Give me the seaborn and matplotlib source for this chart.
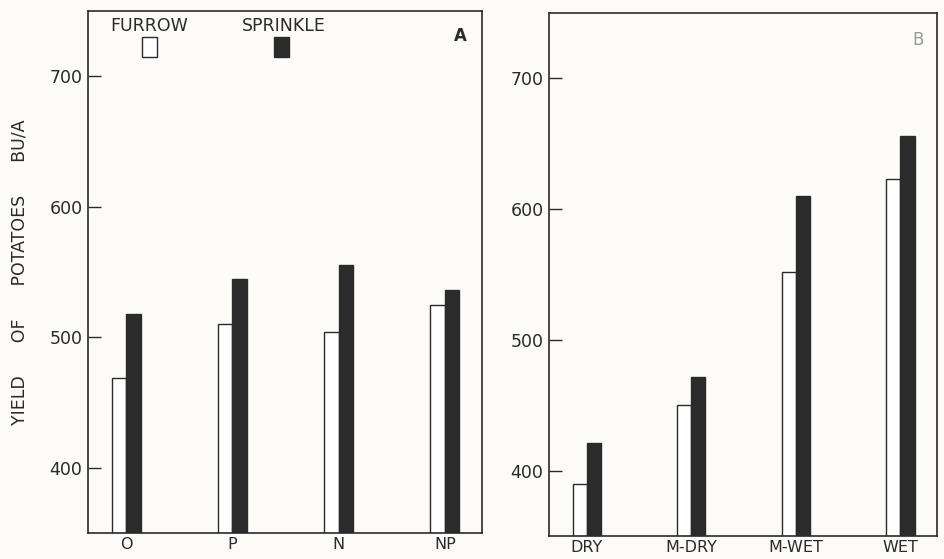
import matplotlib
matplotlib.use("Agg")
import matplotlib.pyplot as plt
import matplotlib.patches as mpatches
import seaborn as sns
import pandas as pd

# ---- data ----
methods = ["FURROW", "SPRINKLE"]
cats_a = ["O", "P", "N", "NP"]
furrow_a = [469, 510, 504, 525]
sprinkle_a = [518, 545, 555, 536]
cats_b = ["DRY", "M-DRY", "M-WET", "WET"]
furrow_b = [390, 450, 552, 623]
sprinkle_b = [421, 472, 610, 656]
yticks = [400, 500, 600, 700]
ylabel = "YIELD      OF      POTATOES      BU/A"

sns.set_theme(style="white")
plt.rcParams["font.family"] = ["DejaVu Sans"]

bg = "#fcfbf8"
ink = "#2a2a2a"
palette = {"FURROW": "white", "SPRINKLE": "#2b2b2b"}


def long_df(cats, f, s):
    return pd.DataFrame({
        "cat": cats * 2,
        "method": [methods[0]] * len(cats) + [methods[1]] * len(cats),
        "value": list(f) + list(s),
    })


fig = plt.figure(figsize=(9.44, 5.59), dpi=100, facecolor=bg)
axA = fig.add_axes([0.0932, 0.0465, 0.4174, 0.9338])
axB = fig.add_axes([0.5816, 0.0411, 0.4110, 0.9356])

for ax, cats, f, s in [(axA, cats_a, furrow_a, sprinkle_a),
                       (axB, cats_b, furrow_b, sprinkle_b)]:
    df = long_df(cats, f, s)
    sns.barplot(data=df, x="cat", y="value", hue="method", order=cats,
                hue_order=methods, palette=palette, width=0.27,
                edgecolor=ink, linewidth=1.0, ax=ax, legend=False,
                errorbar=None)
    ax.set_facecolor(bg)
    ax.set_ylim(350, 750)
    ax.set_xlim(-0.36, 3.35)
    ax.set_yticks(yticks)
    ax.set_yticklabels([str(t) for t in yticks], fontsize=12.5, color=ink)
    ax.tick_params(axis="y", direction="in", length=9, width=1.0,
                   color=ink, left=True, pad=4)
    ax.tick_params(axis="x", length=0, pad=3, labelsize=11.5, labelcolor=ink)
    ax.set_xlabel("")
    ax.set_ylabel("")
    for sp in ax.spines.values():
        sp.set_visible(True)
        sp.set_color(ink)
        sp.set_linewidth(1.2)

axA.set_ylabel(ylabel, fontsize=12.5, color=ink)
axA.yaxis.set_label_coords(-0.152, 0.5)

# legend in panel A
axA.text(0.154, 0.971, "FURROW", transform=axA.transAxes, ha="center",
         va="center", fontsize=12.5, color=ink)
axA.text(0.496, 0.971, "SPRINKLE", transform=axA.transAxes, ha="center",
         va="center", fontsize=12.5, color=ink)
axA.add_patch(mpatches.Rectangle((0.137, 0.912), 0.038, 0.038,
                                 transform=axA.transAxes, facecolor="white",
                                 edgecolor=ink, linewidth=1.0))
axA.add_patch(mpatches.Rectangle((0.471, 0.912), 0.040, 0.038,
                                 transform=axA.transAxes,
                                 facecolor=palette["SPRINKLE"],
                                 edgecolor=ink, linewidth=1.0))
axA.text(0.944, 0.952, "A", transform=axA.transAxes, ha="center",
         va="center", fontsize=12, color=ink, fontweight="bold")
axB.text(0.951, 0.948, "B", transform=axB.transAxes, ha="center",
         va="center", fontsize=12, color="#9a9a9a")

fig.savefig("out.png", dpi=100, facecolor=bg)
